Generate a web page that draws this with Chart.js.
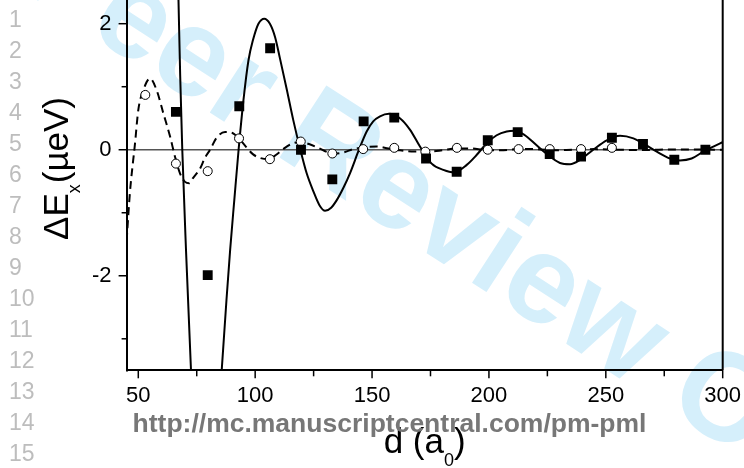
<!DOCTYPE html>
<html lang="en">
<head>
<meta charset="UTF-8">
<style>
  html, body { margin: 0; padding: 0; background: #fff; }
</style>
</head>
<body>
<canvas id="chart" width="744" height="468"></canvas>
<script src="https://cdn.jsdelivr.net/npm/chart.js@4.4.1/dist/chart.umd.min.js"></script>
<script>
// measured points (filled squares)
const dSquares = [66.1, 79.7, 93.2, 106.4, 119.6, 133.0, 146.4, 159.5, 173.1, 186.2, 199.5, 212.3, 226.0, 239.4, 252.6, 265.9, 279.3, 292.6];
const vSquares = [0.60, -1.99, 0.69, 1.61, 0.0, -0.47, 0.45, 0.51, -0.14, -0.35, 0.15, 0.28, -0.07, -0.11, 0.19, 0.09, -0.16, 0.0];

// measured points (open circles)
const dCircles = [53.0, 66.1, 79.7, 93.1, 106.3, 119.5, 133.0, 146.2, 159.5, 172.8, 186.3, 199.5, 212.7, 226.0, 239.4, 252.6];
const vCircles = [0.87, -0.22, -0.34, 0.18, -0.15, 0.13, -0.06, 0.01, 0.03, -0.03, 0.03, 0.0, 0.01, 0.01, 0.01, 0.03];

// solid curve (values outside the frame are estimates)
const dSolid = [66.2, 67.2, 67.92, 68.82, 70.4, 72.54, 74.5, 79.0, 83.5, 85.7, 87.73, 89.31, 91.07, 92.91, 95.0, 97.14, 99.06, 101.4, 103.9, 106.3, 108.5, 110.6, 113.5, 116.3, 119.2, 122.0, 124.9, 127.5, 129.9, 132.5, 134.9, 137.8, 140.6, 144.4, 147.7, 150.5, 153.4, 157.2, 161.9, 166.2, 170.5, 175.5, 180.5, 185.0, 190.5, 194.8, 199.0, 203.3, 207.6, 211.0, 215.0, 220.4, 224.5, 230.4, 234.7, 239.0, 244.6, 250.4, 256.1, 261.8, 266.0, 271.8, 277.5, 281.7, 286.7, 291.7, 296.0, 300.0];
const vSolid = [3.9, 2.37, 1.18, 0.0, -1.58, -3.49, -4.8, -6.0, -4.6, -3.49, -2.38, -1.58, -0.80, 0.0, 0.79, 1.42, 1.74, 2.0, 2.08, 2.0, 1.79, 1.45, 0.96, 0.47, 0.02, -0.37, -0.66, -0.88, -0.97, -0.92, -0.80, -0.60, -0.37, 0.0, 0.29, 0.45, 0.53, 0.57, 0.50, 0.32, 0.05, -0.22, -0.32, -0.36, -0.24, -0.08, 0.10, 0.23, 0.29, 0.30, 0.24, 0.07, -0.06, -0.21, -0.23, -0.16, 0.0, 0.15, 0.22, 0.18, 0.10, -0.03, -0.14, -0.17, -0.14, -0.03, 0.05, 0.12];

// dashed curve
const dDashed = [45.0, 46.4, 48.6, 50.0, 52.1, 55.0, 57.9, 60.7, 63.6, 65.7, 67.8, 70.0, 71.8, 73.4, 76.4, 78.5, 80.7, 83.5, 87.1, 90.0, 93.0, 96.0, 99.0, 102.0, 105.5, 109.0, 112.0, 116.0, 119.5, 123.0, 127.0, 131.0, 134.0, 138.0, 142.0, 147.0, 152.0, 157.0, 162.0, 168.0, 174.0, 180.0, 186.0, 192.0, 198.0, 205.0, 212.0, 220.0, 228.0, 236.0, 245.0, 255.0, 265.0, 280.0, 300.0];
const vDashed = [-1.45, -0.69, 0.1, 0.63, 0.94, 1.13, 0.94, 0.58, 0.21, -0.11, -0.37, -0.51, -0.53, -0.45, -0.30, -0.13, 0.0, 0.19, 0.28, 0.27, 0.18, 0.05, -0.07, -0.13, -0.15, -0.08, 0.01, 0.10, 0.12, 0.09, 0.03, -0.04, -0.06, -0.04, 0.01, 0.04, 0.05, 0.02, -0.01, -0.03, -0.03, -0.01, 0.02, 0.02, 0.0, -0.01, 0.01, 0.01, -0.01, 0.0, 0.01, 0.0, -0.005, 0.005, 0.0];

// axes
const xTicks = [50, 100, 150, 200, 250, 300];
const xMinor = [75, 125, 175, 225, 275];
const yTicks = [-2, 0, 2];
const yMinor = [-3, -1, 1];

const pts = (xs, ys) => xs.map((x, i) => ({ x: x, y: ys[i] }));
const FONT = '"Liberation Sans", Arial, sans-serif';

// light blue "Peer Review Only" stamp behind everything
const stamp = {
    id: 'stamp',
    beforeDraw(chart) {
        const ctx = chart.ctx;
        ctx.save();
        ctx.fillStyle = '#fff';
        ctx.fillRect(0, 0, chart.width, chart.height);
        ctx.translate(16, -13.5);
        ctx.rotate(33 * Math.PI / 180);
        ctx.font = 'bold 125px ' + FONT;
        ctx.fillStyle = '#d5effb';
        ctx.fillText('Peer Review Only', 0, 0);
        ctx.restore();
    }
};

// frame, tick marks, titles, line numbers, url
const decor = {
    id: 'decor',
    afterDraw(chart) {
        const ctx = chart.ctx;
        const a = chart.chartArea;
        const xs = chart.scales.x, ys = chart.scales.y;
        ctx.save();
        ctx.strokeStyle = '#000';
        ctx.lineWidth = 2;
        ctx.beginPath();
        ctx.moveTo(a.right, a.top);
        ctx.lineTo(a.right, a.bottom);
        ctx.stroke();

        ctx.lineWidth = 1.5;
        const tick = (x1, y1, x2, y2) => { ctx.beginPath(); ctx.moveTo(x1, y1); ctx.lineTo(x2, y2); ctx.stroke(); };
        xTicks.forEach(v => { const p = xs.getPixelForValue(v); tick(p, a.bottom, p, a.bottom + 8); });
        xMinor.forEach(v => { const p = xs.getPixelForValue(v); tick(p, a.bottom, p, a.bottom + 6); });
        yTicks.forEach(v => { const p = ys.getPixelForValue(v); tick(a.left, p, a.left - 8, p); });
        yMinor.forEach(v => { const p = ys.getPixelForValue(v); tick(a.left, p, a.left - 5, p); });

        // y title
        const big = '35px ' + FONT, small = '18px ' + FONT;
        ctx.fillStyle = '#000';
        ctx.textAlign = 'left';
        ctx.textBaseline = 'alphabetic';
        ctx.save();
        ctx.translate(68, 240);
        ctx.rotate(-Math.PI / 2);
        let x = 0;
        ctx.font = big; ctx.fillText('ΔE', x, 0); x += ctx.measureText('ΔE').width;
        ctx.font = small; ctx.fillText('x', x, 12); x += ctx.measureText('x').width + 1;
        ctx.font = big; ctx.fillText('(µeV)', x, 0);
        ctx.restore();

        // x title
        ctx.font = big;
        const w1 = ctx.measureText('d (a').width, w3 = ctx.measureText(')').width;
        ctx.font = small;
        const w2 = ctx.measureText('0').width;
        let sx = (a.left + a.right) / 2 - (w1 + w2 + w3) / 2;
        ctx.font = big; ctx.fillText('d (a', sx, 453); sx += w1;
        ctx.font = small; ctx.fillText('0', sx, 466); sx += w2;
        ctx.font = big; ctx.fillText(')', sx, 453);

        // manuscript line numbers
        ctx.font = '23px ' + FONT;
        ctx.fillStyle = '#bdbdbd';
        for (let i = 1; i <= 15; i++) ctx.fillText(String(i), 9, 26.5 + 31 * (i - 1));

        // journal url
        ctx.font = 'bold 26.5px ' + FONT;
        ctx.fillStyle = '#777';
        ctx.textAlign = 'center';
        ctx.fillText('http://mc.manuscriptcentral.com/pm-pml', 389.5, 432);
        ctx.restore();
    }
};

new Chart(document.getElementById('chart'), {
    type: 'scatter',
    data: {
        datasets: [
            {
                label: 'squares',
                data: pts(dSquares, vSquares),
                pointStyle: 'rect',
                pointRadius: 7,
                backgroundColor: '#000',
                borderWidth: 0,
                order: 0
            },
            {
                label: 'circles',
                data: pts(dCircles, vCircles),
                pointStyle: 'circle',
                pointRadius: 4.5,
                backgroundColor: '#fff',
                borderColor: '#000',
                borderWidth: 1,
                order: 0
            },
            {
                label: 'solid fit',
                data: pts(dSolid, vSolid),
                showLine: true,
                borderColor: '#000',
                borderWidth: 2,
                pointRadius: 0,
                cubicInterpolationMode: 'monotone',
                clip: 0,
                order: 1
            },
            {
                label: 'dashed fit',
                data: pts(dDashed, vDashed),
                showLine: true,
                borderColor: '#000',
                borderWidth: 2,
                borderDash: [8, 5],
                pointRadius: 0,
                cubicInterpolationMode: 'monotone',
                clip: 0,
                order: 1
            }
        ]
    },
    options: {
        responsive: false,
        animation: false,
        events: [],
        layout: { autoPadding: false, padding: { top: 0, right: 21.3, bottom: 0, left: 0 } },
        plugins: { legend: { display: false }, tooltip: { enabled: false } },
        scales: {
            x: {
                type: 'linear',
                min: 45,
                max: 300,
                afterBuildTicks: s => { s.ticks = xTicks.map(v => ({ value: v })); },
                afterFit: s => { s.height = 97.7; s.paddingLeft = 0; s.paddingRight = 0; },
                grid: { display: false },
                border: { display: true, color: '#000', width: 2 },
                ticks: { color: '#000', font: { family: FONT, size: 22 }, padding: 4, maxRotation: 0 }
            },
            y: {
                type: 'linear',
                min: -3.5,
                max: 2.376,
                afterBuildTicks: s => { s.ticks = yTicks.map(v => ({ value: v })); },
                afterFit: s => { s.width = 126.6; s.paddingTop = 0; s.paddingBottom = 0; },
                grid: {
                    drawTicks: false,
                    color: c => (c.tick && c.tick.value === 0) ? '#555' : 'rgba(0,0,0,0)',
                    lineWidth: 1.5
                },
                border: { display: true, color: '#000', width: 2 },
                ticks: { color: '#000', font: { family: FONT, size: 22 }, padding: 15 }
            }
        }
    },
    plugins: [stamp, decor]
});
</script>
</body>
</html>
